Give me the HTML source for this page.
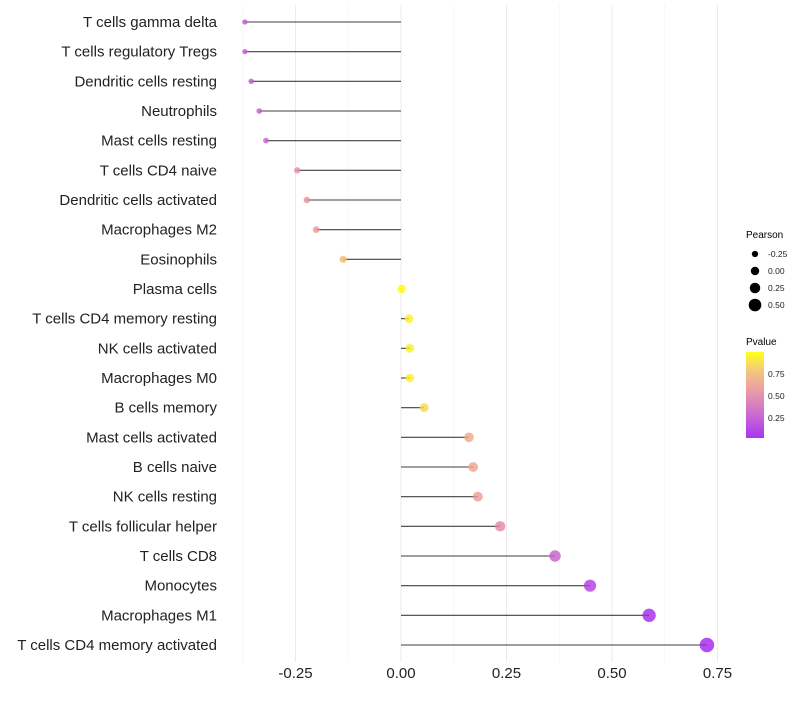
<!DOCTYPE html>
<html><head><meta charset="utf-8"><style>
body{margin:0;background:#fff;font-family:"Liberation Sans",sans-serif;}
svg text{font-family:"Liberation Sans",sans-serif;}
</style></head><body>
<svg id="chart" width="800" height="700">
<defs><linearGradient id="pg" x1="0" y1="1" x2="0" y2="0">
<stop offset="0" stop-color="#a01ff0"/><stop offset="0.3" stop-color="#c860c8"/><stop offset="0.55" stop-color="#e8909c"/><stop offset="0.78" stop-color="#f4c070"/><stop offset="1" stop-color="#ffff00"/></linearGradient></defs>
<g id="grid"></g>
<g id="marks"></g>
<g id="labels"></g>
<g id="ticks"></g>
<g id="sizeLeg">
<text x="746" y="238" font-size="10">Pearson</text>
</g>
<g>
<text x="746" y="345" font-size="10">Pvalue</text>
<rect x="746" y="352" width="18" height="86" fill="url(#pg)" opacity="0.9"/>
<g id="cbTicks"></g>
</g>
</svg>
<script>
const categories=["T cells gamma delta","T cells regulatory  Tregs ","Dendritic cells resting","Neutrophils","Mast cells resting","T cells CD4 naive","Dendritic cells activated","Macrophages M2","Eosinophils","Plasma cells","T cells CD4 memory resting","NK cells activated","Macrophages M0","B cells memory","Mast cells activated","B cells naive","NK cells resting","T cells follicular helper","T cells CD8","Monocytes","Macrophages M1","T cells CD4 memory activated"];
const pearson=[-0.37,-0.37,-0.355,-0.336,-0.32,-0.246,-0.223,-0.201,-0.137,0.002,0.019,0.021,0.021,0.055,0.161,0.171,0.182,0.235,0.365,0.448,0.588,0.725];
const pvalue=[0.25,0.25,0.24,0.27,0.3,0.52,0.55,0.58,0.75,0.99,0.95,0.94,0.94,0.86,0.66,0.64,0.61,0.5,0.28,0.12,0.03,0.01];
const xTicks=[-0.25,0,0.25,0.5,0.75];
const xTickLabels=["-0.25","0.00","0.25","0.50","0.75"];
const xMinor=[-0.375,-0.125,0.125,0.375,0.625];
const sizeLegVals=[-0.25,0,0.25,0.5];
const sizeLegLabels=["-0.25","0.00","0.25","0.50"];
const cbVals=[0.25,0.5,0.75];
const cbLabels=["0.25","0.50","0.75"];
const NS="http://www.w3.org/2000/svg";
const x=v=>401+v*422;
const y=i=>22+i*(623/21);
const rad=v=>4.2+4.2*v;
const cb=v=>438-(v-0.02)*(86/0.98);
const stops=[[0,[160,31,240]],[0.3,[200,96,200]],[0.55,[232,144,156]],[0.78,[244,192,112]],[1,[255,255,0]]];
function col(p){for(let k=1;k<stops.length;k++){if(p<=stops[k][0]){const a=stops[k-1],b=stops[k],t=(p-a[0])/(b[0]-a[0]);return "rgb("+a[1].map((c,j)=>Math.round(c+(b[1][j]-c)*t)).join(",")+")";}}return "rgb(255,255,0)";}
function mk(t,a,p){const e=document.createElementNS(NS,t);for(const k in a)e.setAttribute(k,a[k]);p.appendChild(e);return e;}
const G=document.getElementById('grid'),M=document.getElementById('marks'),L=document.getElementById('labels'),T=document.getElementById('ticks');
xMinor.forEach(v=>{const e=mk('line',{x1:x(v),x2:x(v),y1:5,y2:662,stroke:'#f2f2f2','stroke-width':0.6},G);

});
xTicks.forEach((v,i)=>{const e=mk('line',{x1:x(v),x2:x(v),y1:5,y2:662,stroke:'#ebebeb','stroke-width':1},G);


const t=mk('text',{x:x(v),y:678,'font-size':15,'text-anchor':'middle',fill:'#222'},T);t.textContent=xTickLabels[i];

});
categories.forEach((c,i)=>{
const ln=mk('line',{x1:x(0),x2:x(pearson[i]),y1:y(i),y2:y(i),stroke:'#000','stroke-width':1.1,opacity:0.75},M);


const d=mk('circle',{cx:x(pearson[i]),cy:y(i),r:rad(pearson[i]),fill:col(pvalue[i]),opacity:0.8},M);


const t=mk('text',{x:217,y:y(i)+5,'font-size':15,'text-anchor':'end',fill:'#222'},L);t.textContent=c;

});
const S=document.getElementById('sizeLeg');
sizeLegVals.forEach((v,i)=>{const cy=254+i*17;
const c=mk('circle',{cx:755,cy:cy,r:rad(v),fill:'#000'},S);


const t=mk('text',{x:768,y:cy+3,'font-size':8.5,fill:'#222'},S);t.textContent=sizeLegLabels[i];

});
const C=document.getElementById('cbTicks');
cbVals.forEach((v,i)=>{const t=mk('text',{x:768,y:cb(v)+3,'font-size':8.5,fill:'#222'},C);t.textContent=cbLabels[i];

});
</script>
</body></html>
